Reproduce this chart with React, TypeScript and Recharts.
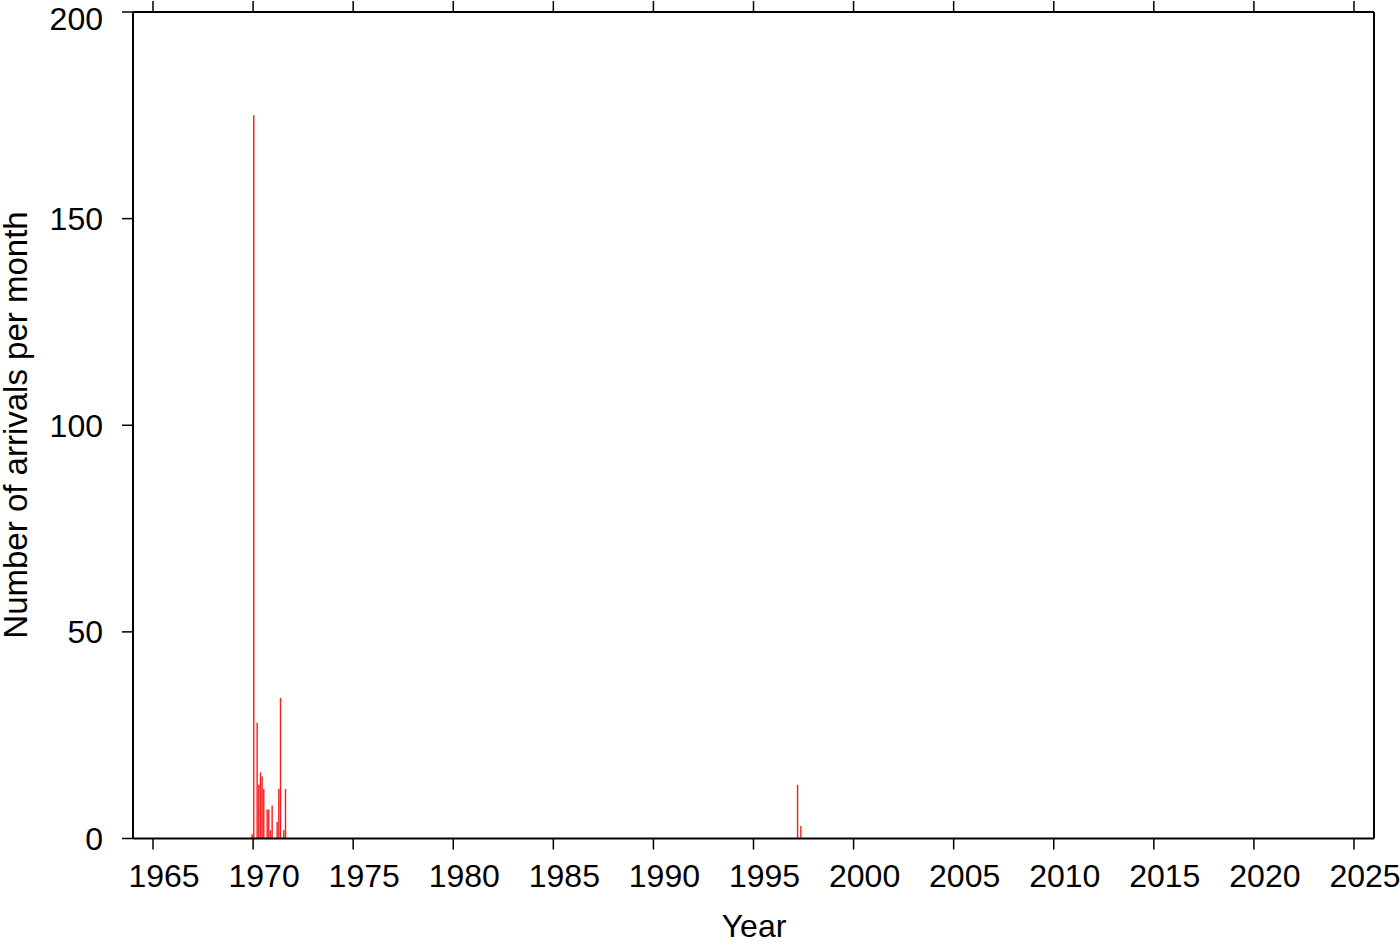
import React from 'react';
import { ComposedChart, Bar, XAxis, YAxis } from 'recharts';

// monthly arrival counts (months with no arrivals are left out)
const months = [
  '1969-12', '1970-01', '1970-03', '1970-04', '1970-05', '1970-06', '1970-07',
  '1970-09', '1970-10', '1970-11', '1970-12', '1971-03', '1971-04', '1971-05',
  '1971-07', '1971-08', '1997-03', '1997-05',
];
const counts = [1, 175, 28, 13, 16, 15, 12, 7, 7, 2, 8, 4, 12, 34, 2, 12, 13, 3];

const yearTicks = [1965, 1970, 1975, 1980, 1985, 1990, 1995, 2000, 2005, 2010, 2015, 2020, 2025];
const countTicks = [0, 50, 100, 150, 200];

// bar sits at the middle of its month
const data = months.map((m, i) => {
  const [y, mo] = m.split('-').map(Number);
  return { t: y + (mo - 0.5) / 12, n: counts[i] };
});

const FONT = '"Liberation Sans", Arial, Helvetica, sans-serif';
const tickStyle = { fontSize: 32, fill: '#000', fontFamily: FONT };
const noLabel = () => <g />;

// year labels sit a little right of their tick, like the original plot
const YearTick = (props: any) => {
  const { x, y, payload } = props;
  return (
    <text x={x + 11} y={y} dy={23} textAnchor="middle" fontSize={32} fontFamily={FONT} fill="#000">
      {payload.value}
    </text>
  );
};

export default function App() {
  return (
    <div style={{ position: 'absolute', left: 0, top: 0, background: '#fff' }}>
      <ComposedChart
        width={1400}
        height={942}
        data={data}
        margin={{ top: 11, right: 25, left: 0, bottom: 0 }}
      >
        <XAxis
          xAxisId="b"
          dataKey="t"
          type="number"
          domain={[1964, 2026]}
          ticks={yearTicks}
          allowDataOverflow
          height={103.5}
          axisLine={{ stroke: '#000', strokeWidth: 2 }}
          tickLine={{ stroke: '#000', strokeWidth: 1.5 }}
          tickSize={11}
          tickMargin={14}
          tick={<YearTick />}
          label={{
            content: () => (
              <text x={754} y={937} textAnchor="middle" fontSize={32} fontFamily={FONT} fill="#000">
                Year
              </text>
            ),
          }}
        />
        <XAxis
          xAxisId="t"
          orientation="top"
          dataKey="t"
          type="number"
          domain={[1964, 2026]}
          ticks={yearTicks}
          allowDataOverflow
          height={1}
          axisLine={{ stroke: '#000', strokeWidth: 2 }}
          tickLine={{ stroke: '#000', strokeWidth: 1.5 }}
          tickSize={11}
          tick={noLabel}
        />
        <YAxis
          yAxisId="l"
          type="number"
          domain={[0, 200]}
          ticks={countTicks}
          width={133}
          axisLine={{ stroke: '#000', strokeWidth: 2 }}
          tickLine={{ stroke: '#000', strokeWidth: 1.5 }}
          tickSize={11}
          tickMargin={19}
          tick={tickStyle}
          label={{
            content: () => (
              <text
                x={27}
                y={425}
                transform="rotate(-90 27 425)"
                textAnchor="middle"
                fontSize={33}
                fontFamily={FONT}
                fill="#000"
              >
                Number of arrivals per month
              </text>
            ),
          }}
        />
        <YAxis
          yAxisId="r"
          orientation="right"
          type="number"
          domain={[0, 200]}
          ticks={countTicks}
          width={1}
          axisLine={{ stroke: '#000', strokeWidth: 2 }}
          tickLine={{ stroke: '#000', strokeWidth: 1.5 }}
          tickSize={11}
          tick={noLabel}
        />
        <Bar
          xAxisId="b"
          yAxisId="l"
          dataKey="n"
          fill="#f01e1e"
          barSize={1.4}
          isAnimationActive={false}
        />
      </ComposedChart>
    </div>
  );
}
